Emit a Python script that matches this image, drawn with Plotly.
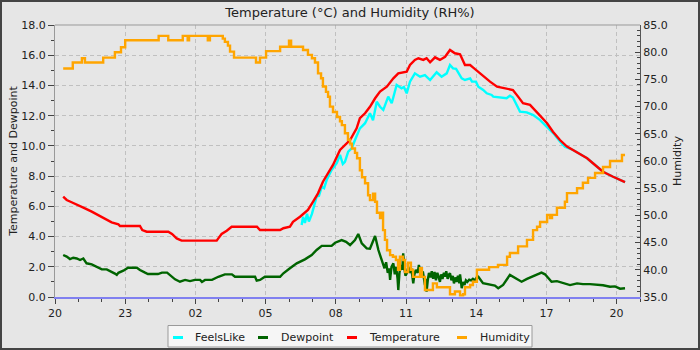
import pandas as pd
import plotly.graph_objects as go

BASE = pd.Timestamp("2024-05-10 20:00")

# ---- data (hours after 20:00, value) ----
hum_h = [0.35, 0.76, 1.15, 1.28, 2.06, 2.56, 2.82, 3.0, 4.43, 4.84, 5.46, 5.67, 5.73, 6.53, 6.62,
         7.17, 7.26, 7.39, 7.48, 7.65, 8.59, 8.76, 9.02, 9.62, 10.0, 10.09, 10.6, 10.81, 10.98,
         11.11, 11.24, 11.37, 11.45, 11.58, 11.67, 11.75, 11.88, 12.05, 12.18, 12.26, 12.39,
         12.52, 12.61, 12.69, 12.82, 12.91, 13.03, 13.12, 13.25, 13.38, 13.46, 13.59, 13.68,
         13.76, 13.89, 13.97, 14.02, 14.1, 14.19, 14.32, 14.44, 14.57, 14.66, 14.74, 14.87,
         14.96, 15.09, 15.21, 15.3, 15.47, 15.6, 15.68, 15.81, 16.03, 16.15, 16.32, 16.75,
         16.88, 17.09, 17.31, 17.44, 17.52, 17.74, 17.86, 18.03, 18.55, 18.93, 19.32, 19.44,
         19.79, 20.17, 20.43, 20.6, 20.73, 21.03, 21.15, 21.24, 21.45, 21.79, 21.88, 22.31,
         22.56, 22.78, 23.08, 23.42, 23.72, 24.23, 24.36]
hum_v = [77.0, 78.1, 78.9, 78.1, 79.0, 80.0, 80.9, 82.2, 83.0, 82.2, 83.0, 82.2, 83.0, 82.2, 83.0,
         82.5, 81.9, 81.2, 80.1, 79.0, 78.1, 79.0, 80.2, 81.0, 82.1, 81.0, 80.4, 79.5, 78.9,
         78.1, 76.1, 75.2, 73.7, 72.7, 71.8, 70.0, 69.0, 68.1, 67.3, 66.6, 65.1,
         63.9, 63.2, 62.3, 61.5, 60.5, 58.3, 57.0, 55.9, 53.7, 52.8, 54.0, 52.5,
         50.5, 49.5, 50.5, 47.3, 45.5, 43.6, 42.7, 42.4, 41.8, 40.0, 42.4, 41.8,
         39.6, 41.3, 40.0, 38.7, 38.7, 40.3, 38.7, 36.3, 36.3, 37.5, 36.8, 36.8,
         35.5, 36.0, 35.3, 35.5, 36.8, 37.2, 37.8, 40.0, 40.5, 40.9, 42.4, 43.1,
         44.3, 45.5, 47.3, 47.9, 48.8, 50.1, 49.5, 50.1, 51.4, 52.5, 54.1, 55.0,
         56.0, 56.9, 57.8, 58.9, 60.0, 61.1, 61.1]

temp_h = [0.35, 0.5, 0.71, 1.0, 1.28, 1.57, 1.85, 2.14, 2.42, 2.71, 2.78, 3.63, 3.73, 3.92, 4.84,
          5.0, 5.2, 5.41, 6.91, 6.98, 7.12, 7.34, 7.55, 8.63, 8.76, 9.62, 9.76, 10.04, 10.17,
          10.47, 10.81, 11.03, 11.24, 11.45, 11.67, 11.88, 12.18, 12.61, 12.89, 13.03, 13.25,
          13.46, 13.68, 13.89, 14.18, 14.46, 14.67, 15.03, 15.17, 15.38, 15.53, 15.74, 15.88,
          16.03, 16.24, 16.45, 16.67, 16.88, 17.09, 17.31, 17.52, 17.74, 17.86, 18.08, 18.29,
          18.59, 18.89, 19.32, 19.57, 19.79, 20.0, 20.3, 20.51, 20.73, 21.03, 21.28, 21.58,
          21.88, 22.14, 22.44, 22.74, 22.99, 23.42, 23.85, 24.15, 24.36]
temp_v = [6.64, 6.42, 6.27, 6.09, 5.87, 5.65, 5.43, 5.21, 4.94, 4.81, 4.70, 4.70, 4.43, 4.32, 4.32,
          4.17, 3.88, 3.73, 3.73, 3.88, 4.17, 4.39, 4.65, 4.65, 4.43, 4.43, 4.55, 4.65, 4.98,
          5.31, 5.76, 6.31, 6.86, 7.63, 8.19, 8.74, 9.73, 10.39, 11.16, 11.83, 12.16,
          12.59, 13.15, 13.59, 13.92, 14.47, 14.80, 14.91, 15.35, 15.69, 15.80, 15.69, 15.80,
          15.53, 15.86, 15.69, 15.90, 16.35, 16.13, 16.06, 15.35, 15.35, 15.20, 14.91, 14.58,
          14.25, 13.92, 13.81, 13.70, 13.26, 12.82, 12.71, 12.38, 12.04, 11.50, 10.94, 10.39,
          9.95, 9.73, 9.44, 9.18, 8.85, 8.29, 7.96, 7.75, 7.60]

feels_h = [10.54, 10.6, 10.68, 10.77, 10.85, 10.98, 11.18, 11.28, 11.4, 11.5, 11.61, 11.82, 12.04,
           12.18, 12.3, 12.39, 12.53, 12.68, 12.82, 13.03, 13.25, 13.46, 13.59, 13.75, 13.89,
           14.03, 14.24, 14.39, 14.6, 14.81, 14.91, 15.03, 15.17, 15.38, 15.6, 15.81, 16.03,
           16.15, 16.31, 16.52, 16.74, 16.88, 17.01, 17.14, 17.38, 17.52, 17.74, 17.82, 17.99,
           18.09, 18.3, 18.45, 18.66, 18.73, 19.3, 19.44, 19.57, 19.8, 19.87, 20.16, 20.44,
           20.73, 21.01, 21.3, 21.58, 21.79, 22.14, 22.44, 22.74, 22.99, 23.42, 23.85, 24.15, 24.36]
feels_v = [4.77, 5.3, 4.9, 5.5, 5.0, 5.5, 6.64, 6.7, 7.30, 7.2, 7.74, 8.40, 8.85,
           9.4, 8.8, 8.95, 9.62, 9.84, 10.39, 11.16, 11.50, 12.16, 11.7, 12.92, 12.59,
           12.38, 13.26, 12.82, 14.03, 13.81, 13.9, 13.48, 14.25, 14.80, 14.58, 14.69, 14.36,
           14.6, 14.87, 14.58, 14.80, 15.35, 15.13, 15.1, 14.47, 14.36, 14.47, 14.25, 14.25,
           13.92, 13.70, 13.48, 13.37, 13.26, 13.15, 13.32, 13.2, 12.49, 12.27, 12.22, 12.04,
           11.71, 11.27, 10.83, 10.3, 9.95, 9.73, 9.44, 9.18, 8.85, 8.29, 7.96, 7.75, 7.60]

dew_h = [0.35, 0.5, 0.64, 0.78, 0.93, 1.07, 1.21, 1.35, 1.57, 1.78, 2.0, 2.21, 2.42, 2.56, 2.64,
         2.71, 2.92, 3.12, 3.5, 3.63, 3.85, 3.97, 4.4, 4.57, 4.79, 4.91, 5.13, 5.34, 5.56, 5.77,
         5.98, 6.2, 6.28, 6.41, 6.71, 6.98, 7.26, 7.56, 7.69, 8.55, 8.62, 8.76, 8.97, 9.62, 9.76,
         10.04, 10.33, 10.68, 10.97, 11.18, 11.4, 11.82, 11.97, 12.25, 12.44, 12.61, 12.82, 12.96,
         13.11, 13.32, 13.46, 13.68, 13.82, 13.96,
         14.0, 14.08, 14.15, 14.22, 14.28, 14.32, 14.38, 14.46, 14.52, 14.58, 14.64, 14.67,
         14.72, 14.78, 14.84, 14.88, 14.93, 14.98, 15.03, 15.1, 15.17, 15.22, 15.27, 15.31,
         15.36, 15.42, 15.5, 15.55, 15.6, 15.67, 15.72, 15.78, 15.81, 15.85, 15.88, 15.93,
         15.98, 16.05, 16.1, 16.16, 16.22, 16.28, 16.34, 16.4, 16.45, 16.5, 16.56, 16.62,
         16.67, 16.72, 16.78, 16.84, 16.88, 16.94, 17.0, 17.05, 17.1, 17.16, 17.22, 17.28,
         17.31, 17.35, 17.38, 17.44, 17.5, 17.56, 17.62, 17.7, 17.78, 17.86, 17.95, 18.02,
         18.09, 18.29, 18.59, 18.8, 18.94,
         19.15, 19.44, 19.66, 19.94, 20.17, 20.43, 20.58, 20.79, 20.94, 21.22, 21.45, 21.71,
         22.01, 22.31, 22.56, 22.86, 23.16, 23.42, 23.72, 23.93, 24.15, 24.36]
dew_v = [2.78, 2.67, 2.51, 2.60, 2.55, 2.45, 2.55, 2.23, 2.16, 2.01, 1.83, 1.83, 1.68, 1.55, 1.46,
         1.60, 1.74, 1.94, 1.94, 1.79, 1.61, 1.52, 1.52, 1.61, 1.61, 1.46, 1.17, 1.01, 1.13, 1.05,
         1.13, 1.13, 1.00, 1.13, 1.13, 1.34, 1.50, 1.50, 1.34, 1.34, 1.08, 1.13, 1.34, 1.34, 1.57,
         1.90, 2.23, 2.49, 2.78, 3.11, 3.38, 3.38, 3.59, 3.77, 3.65, 3.44, 3.77, 4.17,
         3.55, 3.22, 3.20, 4.04, 3.11, 2.45,
         2.30, 1.90, 2.30, 1.60, 1.90, 1.13, 2.00, 2.23, 1.50, 2.00, 1.20, 0.46,
         1.60, 2.12, 1.80, 2.89, 1.90, 1.40, 1.57, 2.00, 1.60, 1.90, 1.40, 0.91,
         1.50, 1.80, 1.60, 2.12, 1.70, 1.30, 1.70, 1.20, 0.79, 1.20, 0.35, 1.10,
         1.60, 1.30, 1.70, 1.20, 1.65, 1.10, 1.60, 1.30, 1.00, 1.50, 1.20, 1.60,
         1.35, 1.70, 1.20, 1.50, 1.57, 1.10, 1.40, 0.90, 1.30, 1.00, 1.40, 0.90,
         1.50, 1.00, 0.58, 1.00, 0.80, 1.10, 1.00, 1.15, 1.10, 1.20, 1.10, 1.30,
         1.34, 0.91, 0.79, 0.75, 0.58,
         0.80, 1.46, 1.25, 1.01, 1.20, 1.35, 1.46, 1.61, 1.50, 1.01, 1.05, 0.95,
         0.79, 0.90, 0.85, 0.85, 0.82, 0.78, 0.68, 0.70, 0.55, 0.58]

x_tick_hours = list(range(0, 26, 3))
series_names = ["FeelsLike", "Dewpoint", "Temperature", "Humidity"]


def to_time(hours):
    return [BASE + pd.Timedelta(hours=h) for h in hours]


FONT = "DejaVu Sans"
TXT = "#222222"
W, H = 700, 350
L, R, T, B = 55, 60, 25, 53
PW, PH = W - L - R, H - T - B


def px(X):
    return (X - L) / PW


def py(Y):
    return (H - B - Y) / PH


fig = go.Figure()

series = [
    (feels_h, feels_v, "#00ffff", "y", "linear"),
    (dew_h, dew_v, "#006400", "y", "linear"),
    (temp_h, temp_v, "#ff0000", "y", "linear"),
    (hum_h, hum_v, "#ffa500", "y2", "hv"),
]
for name, (xs, ys, col, ax, shape) in zip(series_names, series):
    fig.add_trace(go.Scatter(x=to_time(xs), y=ys, mode="lines", name=name, yaxis=ax,
                             line=dict(color=col, width=2.4, shape=shape),
                             showlegend=False, hoverinfo="skip"))

# ---- legend box drawn as shapes + text annotations ----
leg_sym_x = [173, 258, 347, 457]
leg_txt_x = [193, 279, 367, 478]
shapes = [dict(type="rect", xref="paper", yref="paper", x0=px(168), x1=px(532),
               y0=py(347), y1=py(325.5), fillcolor="#f6f6f6",
               line=dict(color="#9a9a9a", width=1), layer="above")]
annotations = []
for name, (xs, ys, col, ax, shape), sx, tx in zip(series_names, series, leg_sym_x, leg_txt_x):
    shapes.append(dict(type="line", xref="paper", yref="paper", x0=px(sx), x1=px(sx + 10),
                       y0=py(337.5), y1=py(337.5), line=dict(color=col, width=3), layer="above"))
    annotations.append(dict(text=name, xref="paper", yref="paper", x=px(tx), y=py(337),
                            xanchor="left", yanchor="middle", showarrow=False,
                            font=dict(size=11, family=FONT, color=TXT)))

shapes += [
    dict(type="line", xref="paper", yref="paper", x0=0, x1=1, y0=1, y1=1,
         line=dict(color="#999999", width=1)),
    dict(type="rect", xref="paper", yref="paper",
         x0=px(1), x1=px(W - 1), y0=py(H - 1), y1=py(1),
         line=dict(color="#444444", width=2), layer="above"),
]

fig.update_layout(
    width=W, height=H,
    margin=dict(l=L, r=R, t=T, b=B),
    paper_bgcolor="#e6e6e6", plot_bgcolor="#e6e6e6",
    font=dict(family=FONT, size=11, color=TXT),
    title=dict(text="Temperature (°C) and Humidity (RH%)", x=0.5, xref="container",
               xanchor="center", y=1 - 12 / H, yref="container", yanchor="middle",
               font=dict(size=13, color=TXT, family=FONT)),
    showlegend=False,
    xaxis=dict(
        type="date", range=[BASE, BASE + pd.Timedelta(hours=25)],
        tickmode="array", tickvals=to_time(x_tick_hours), tickformat="%H",
        ticks="outside", ticklen=5, tickcolor="#444", tickwidth=1,
        minor=dict(dtick=3600000, ticks="outside", ticklen=3, tickcolor="#444", showgrid=False),
        showgrid=True, gridcolor="#c0c0c0", griddash="4px,3px", gridwidth=1,
        showline=True, linecolor="#8080f0", linewidth=2, zeroline=False,
        tickfont=dict(size=11, color=TXT),
    ),
    yaxis=dict(
        range=[0, 18], tickmode="linear", tick0=0, dtick=2, tickformat=".1f",
        ticks="outside", ticklen=6, tickcolor="#444",
        minor=dict(dtick=1, ticks="outside", ticklen=3, tickcolor="#444", showgrid=False),
        showgrid=True, gridcolor="#c0c0c0", griddash="4px,3px", gridwidth=1,
        showline=True, linecolor="#999999", linewidth=1, zeroline=False,
        title=dict(text="Temperature and Dewpoint", standoff=1, font=dict(size=11)),
        tickfont=dict(size=11, color=TXT),
    ),
    yaxis2=dict(
        range=[35, 85], overlaying="y", side="right", tickmode="linear", tick0=35, dtick=5,
        tickformat=".1f", ticks="inside", ticklen=5, tickcolor="#444",
        minor=dict(dtick=1, ticks="inside", ticklen=3, tickcolor="#444", showgrid=False),
        showgrid=False, showline=True, linecolor="#555555", linewidth=1, zeroline=False,
        title=dict(text="Humidity", standoff=6, font=dict(size=11)),
        tickfont=dict(size=11, color=TXT),
    ),
    shapes=shapes,
    annotations=annotations,
)

fig.write_html("out.html")
